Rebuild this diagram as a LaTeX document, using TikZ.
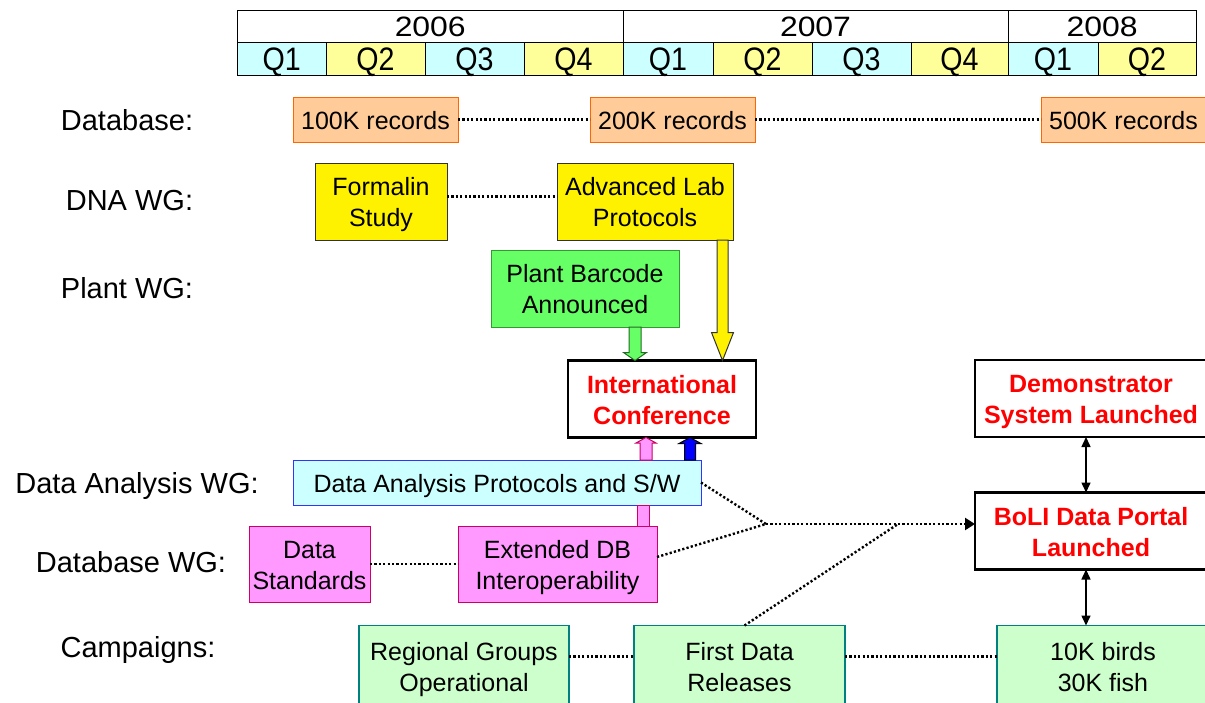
\documentclass[tikz,border=0pt]{standalone}
\usepackage{fontspec}
\setmainfont{Liberation Sans}
\newfontfamily\yearfont[FakeStretch=1.14]{Liberation Sans}
\newfontfamily\qfont[FakeStretch=0.88]{Liberation Sans}
\usetikzlibrary{arrows.meta, positioning, calc}
\definecolor{qcyan}{HTML}{CCFFFF}
\definecolor{qyellow}{HTML}{FFFF99}
\definecolor{recfill}{HTML}{FFCC99}
\definecolor{recline}{HTML}{FF6600}
\definecolor{plantfill}{HTML}{66FF66}
\definecolor{plantline}{HTML}{339933}
\definecolor{anline}{HTML}{3333FF}
\definecolor{dbfill}{HTML}{FF99FF}
\definecolor{dbline}{HTML}{CC0066}
\definecolor{campfill}{HTML}{CCFFCC}
\definecolor{campline}{HTML}{008080}
\def\boxfont{\fontsize{25}{31}\selectfont}
\tikzstyle{box}=[rectangle, align=center, inner sep=0pt, outer sep=0pt, line width=1pt, font=\boxfont,
                 text height=56pt, text depth=5.3pt]
\tikzstyle{oneline}=[text height=25pt]
\tikzstyle{records}=[box, oneline, draw=recline, fill=recfill, minimum width=165pt, minimum height=45pt]
\tikzstyle{dna}=[box, draw=black!80, fill=yellow, minimum height=77pt]
\tikzstyle{plant}=[box, draw=plantline, fill=plantfill, minimum height=77pt]
\tikzstyle{event}=[box, draw=black, line width=2.5pt, fill=white, text=red, font=\boxfont\bfseries, minimum height=77pt]
\tikzstyle{analysis}=[box, oneline, draw=anline, fill=qcyan, minimum height=45pt]
\tikzstyle{dbwg}=[box, draw=dbline, fill=dbfill, minimum height=76pt]
\tikzstyle{campaign}=[box, draw=campline, line width=1.5pt, fill=campfill, minimum height=82pt]
\tikzstyle{rowlabel}=[inner sep=0pt, font=\fontsize{29}{35}\selectfont]
\tikzstyle{year}=[draw, line width=1pt, inner sep=0pt, minimum height=32pt, text height=20pt, text depth=0pt,
                  font=\yearfont\fontsize{28}{28}\selectfont]
\tikzstyle{quarter}=[draw, line width=1pt, inner sep=0pt, minimum height=33pt, text height=23.5pt, text depth=0pt,
                     font=\qfont\fontsize{32.5}{33}\selectfont]
\tikzstyle{link}=[line width=2.4pt, dash pattern=on 2.2pt off 2.2pt]
\tikzstyle{twoway}=[line width=1.5pt, {Triangle[length=10pt,width=9pt]}-{Triangle[length=10pt,width=9pt]}]
\tikzstyle{garrow}=[draw=plantline!70!black, fill=plantfill, line width=1pt]
\tikzstyle{yarrow}=[draw=black!80, fill=yellow, line width=1pt]
\tikzstyle{parrow}=[draw=dbline, fill=dbfill, line width=1pt]
\tikzstyle{barrow}=[draw=black, fill=blue, line width=1pt]
% block arrow: style, start, end, half shaft, half head, head length (signed)
\newcommand{\blockarrow}[6]{%
  \draw[#1] let \p1=#2, \p2=#3 in
    (\x1-#4,\y1) -- (\x1-#4,\y2+#6) -- (\x1-#5,\y2+#6) -- (\x1,\y2)
    -- (\x1+#5,\y2+#6) -- (\x1+#4,\y2+#6) -- (\x1+#4,\y1) -- cycle;}

\begin{document}
\begin{tikzpicture}[x=1pt, y=-1pt]
  \useasboundingbox[fill=white] (0,0) rectangle (1205,702);

  % time line
  \node[year, minimum width=385.5pt] (y2006) at (430.25,26) {2006};
  \node[year, minimum width=385pt] (y2007) at (815.5,26) {2007};
  \node[year, minimum width=188pt] (y2008) at (1102,26) {2008};
  \foreach \l/\r/\c/\t [count=\i] in {237.5/326/qcyan/Q1, 326/425/qyellow/Q2, 425/524/qcyan/Q3, 524/623/qyellow/Q4,
      623/713/qcyan/Q1, 713/812/qyellow/Q2, 812/911/qcyan/Q3, 911/1008/qyellow/Q4,
      1008/1098/qcyan/Q1, 1098/1196/qyellow/Q2}{
    \node[quarter, fill=\c, minimum width={(\r-\l)*1pt}] (q\i) at ({(\l+\r)/2},58.5) {\t};
  }

  % row labels
  \node[rowlabel] (ldb) at (127,120) {Database:};
  \node[rowlabel] (ldna) at (129.5,201) {DNA WG:};
  \node[rowlabel] (lplant) at (127,288) {Plant WG:};
  \node[rowlabel] (lan) at (137,486) {Data Analysis WG:};
  \node[rowlabel] (ldbwg) at (131,562) {Database WG:};
  \node[rowlabel] (lcamp) at (138,650) {Campaigns:};

  % database
  \node[records] (rec1) at (375.5,119.5) {100K records};
  \node[records] (rec2) at (672.5,119.5) {200K records};
  \node[records] (rec3) at (1123.5,119.5) {500K records};

  % working groups
  \node[dna, minimum width=132pt] (formalin) at (381,201.5) {Formalin\\Study};
  \node[dna, minimum width=176pt] (advlab) at (645,201.5) {Advanced Lab\\Protocols};
  \node[plant, minimum width=188pt] (plant) at (585,288.5) {Plant Barcode\\Announced};
  \node[event, minimum width=188pt] (conf) at (662,399) {International\\Conference};
  \node[analysis, minimum width=408pt] (dataan) at (497,482.5) {Data Analysis Protocols and S/W};
  \node[dbwg, minimum width=121pt] (datastd) at (309.5,564) {Data\\Standards};
  \node[dbwg, minimum width=199pt] (extdb) at (557.5,564) {Extended DB\\Interoperability};

  % milestones
  \node[event, minimum width=232pt] (demo) at (1091,398.5) {Demonstrator\\System Launched};
  \node[event, minimum width=232pt] (boli) at (1091,531) {BoLI Data Portal\\Launched};

  % campaigns
  \node[campaign, minimum width=210pt] (regional) at (464,666.5) {Regional Groups\\Operational};
  \node[campaign, minimum width=211pt] (firstdata) at (739.5,666.5) {First Data\\Releases};
  \node[campaign, minimum width=212pt] (birds) at (1103,666.5) {10K birds\\30K fish};

  % dotted links
  \draw[link] (rec1) -- (rec2);
  \draw[link] (rec2) -- (rec3);
  \draw[link] ([yshift=5pt]formalin.east) -- ([yshift=5pt]advlab.west);
  \draw[link] (datastd) -- (extdb);
  \draw[link] ([yshift=10pt]regional.east) -- ([yshift=10pt]firstdata.west);
  \draw[link] ([yshift=10pt]firstdata.east) -- ([yshift=10pt]birds.west);

  \coordinate (j1) at (766,524);
  \coordinate (j2) at (898,524);
  \draw[link] (dataan.east) -- (j1);
  \draw[link] ([yshift=7pt]extdb.east) -- (j1);
  \draw[link] ([xshift=5pt]firstdata.north) -- (j2);
  \draw[link, -{Triangle[length=10pt,width=12pt]}] (j1) -- (j1 -| boli.west);

  % block arrows into the conference
  \blockarrow{garrow}{(635,0 |- plant.south)}{(635,0 |- conf.north)}{6pt}{11.5pt}{8pt}
  \blockarrow{yarrow}{(722.5,0 |- advlab.south)}{(722.5,0 |- conf.north)}{5.5pt}{11pt}{28pt}
  \blockarrow{parrow}{(646,0 |- dataan.north)}{(646,0 |- conf.south)}{6pt}{10pt}{-5.5pt}
  \blockarrow{barrow}{(690,0 |- dataan.north)}{(690,0 |- conf.south)}{5.5pt}{11pt}{-6pt}
  \draw[parrow] (637,0 |- extdb.north) rectangle (649,0 |- dataan.south);

  % portal links
  \draw[twoway] ([xshift=-5pt]demo.south) -- ([xshift=-5pt]boli.north);
  \draw[twoway] ([xshift=-5pt]boli.south) -- ([xshift=-5pt]boli.south |- birds.north);
\end{tikzpicture}
\end{document}
